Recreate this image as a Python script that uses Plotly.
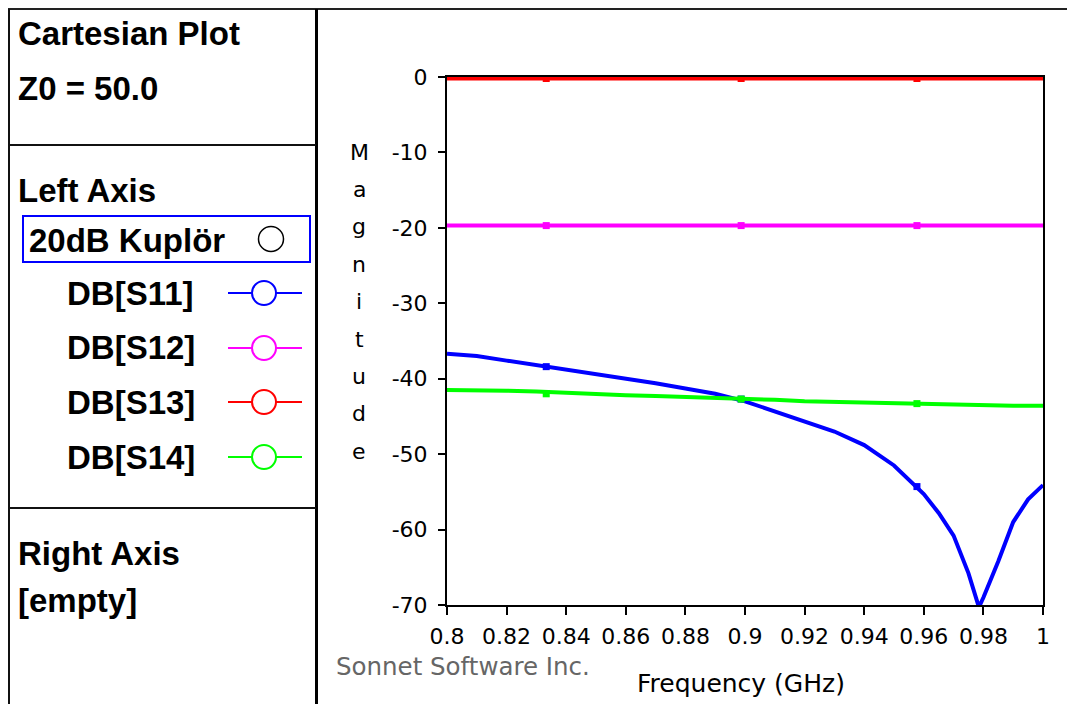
import plotly.graph_objects as go

# ---------------- data ----------------
freq = [0.800, 0.810, 0.820, 0.830, 0.840, 0.850, 0.860, 0.870, 0.880, 0.890,
        0.900, 0.910, 0.920, 0.930, 0.940, 0.950, 0.960, 0.965, 0.970, 0.975,
        0.9785, 0.980, 0.985, 0.990, 0.995, 1.000]
s11 = [-36.7, -37.0, -37.6, -38.2, -38.7, -39.3, -40.0, -40.6, -41.3, -42.0,
       -43.0, -44.3, -45.6, -47.0, -48.8, -51.5, -55.3, -57.8, -60.8, -65.8,
       -70.3, -69.0, -64.2, -59.0, -56.0, -54.1]
s12 = [-19.7, -19.7, -19.7, -19.7, -19.7, -19.7, -19.7, -19.7, -19.7, -19.7,
       -19.7, -19.7, -19.7, -19.7, -19.7, -19.7, -19.7, -19.7, -19.7, -19.7,
       -19.7, -19.7, -19.7, -19.7, -19.7, -19.7]
s13 = [-0.2, -0.2, -0.2, -0.2, -0.2, -0.2, -0.2, -0.2, -0.2, -0.2,
       -0.2, -0.2, -0.2, -0.2, -0.2, -0.2, -0.2, -0.2, -0.2, -0.2,
       -0.2, -0.2, -0.2, -0.2, -0.2, -0.2]
s14 = [-41.5, -41.5, -41.6, -41.7, -41.9, -42.0, -42.2, -42.3, -42.4, -42.6,
       -42.7, -42.8, -43.0, -43.1, -43.2, -43.3, -43.3, -43.4, -43.4, -43.5,
       -43.5, -43.6, -43.6, -43.6, -43.6, -43.6]

mark_freq = [0.8333, 0.8987, 0.9577]
s11_mark = [-38.4, -42.7, -54.3]
s12_mark = [-19.7, -19.7, -19.7]
s13_mark = [-0.2, -0.2, -0.2]
s14_mark = [-42.0, -42.7, -43.3]

series_names = ["DB[S11]", "DB[S12]", "DB[S13]", "DB[S14]"]
series_colors = ["#0000FF", "#FF00FF", "#FF0000", "#00FF00"]

x_ticks = [0.80, 0.82, 0.84, 0.86, 0.88, 0.90, 0.92, 0.94, 0.96, 0.98, 1.00]
x_tick_text = ["0.8", "0.82", "0.84", "0.86", "0.88", "0.9", "0.92", "0.94", "0.96", "0.98", "1"]
y_ticks = [0, -10, -20, -30, -40, -50, -60, -70]
y_tick_text = ["0", "-10", "-20", "-30", "-40", "-50", "-60", "-70"]

# ---------------- geometry (page pixels; the page body has an 8px margin) ----------------
OFF = 8
WIN_W, WIN_H = 1075, 704
W, H = WIN_W - OFF, WIN_H - OFF
L, R, T, B = 447, 1043, 77, 605


def px(x):
    return (x - L) / (R - L)


def py(y):
    return (B - y) / (B - T)


BOLD_FONT = "Liberation Sans, Arial, sans-serif"
REG_FONT = "DejaVu Sans, Liberation Sans, sans-serif"

fig = go.Figure()
curves = [s11, s12, s13, s14]
marks = [s11_mark, s12_mark, s13_mark, s14_mark]
for name, col, vals, mv in zip(series_names, series_colors, curves, marks):
    fig.add_trace(go.Scatter(x=freq, y=vals, mode="lines", name=name,
                             line=dict(color=col, width=4), showlegend=False))
    fig.add_trace(go.Scatter(x=mark_freq, y=mv, mode="markers", name=name,
                             marker=dict(color=col, symbol="square", size=7),
                             showlegend=False))

shapes = []
ann = []


def hline(y, x0, x1, w=2, col="#111"):
    shapes.append(dict(type="line", xref="paper", yref="paper",
                       x0=px(x0), x1=px(x1), y0=py(y), y1=py(y),
                       line=dict(color=col, width=w)))


def vline(x, y0, y1, w=2, col="#111"):
    shapes.append(dict(type="line", xref="paper", yref="paper",
                       x0=px(x), x1=px(x), y0=py(y0), y1=py(y1),
                       line=dict(color=col, width=w)))


def text(x, y, s, size=33, bold=True, col="black", anchor="left"):
    ann.append(dict(xref="paper", yref="paper", x=px(x), y=py(y), text=s,
                    showarrow=False, xanchor=anchor, yanchor="middle",
                    font=dict(family=BOLD_FONT if bold else REG_FONT, size=size,
                              color=col, weight="bold" if bold else "normal")))


def circle(cx, cy, r, col, w=2):
    shapes.append(dict(type="circle", xref="paper", yref="paper",
                       x0=px(cx - r), x1=px(cx + r), y0=py(cy + r), y1=py(cy - r),
                       line=dict(color=col, width=w), fillcolor="white"))


# panel borders
hline(9, OFF, WIN_W, 2, "#222")
vline(9, 9, WIN_H, 2)
vline(316.5, 9, WIN_H, 3, "#000")
hline(145, 8, 316)
hline(508, 8, 316)

# panel texts
text(16, 34, "Cartesian Plot")
text(16, 88, "Z0 = 50.0")
text(16, 190, "Left Axis")
shapes.append(dict(type="rect", xref="paper", yref="paper",
                   x0=px(23), x1=px(310), y0=py(262), y1=py(216),
                   line=dict(color="#0000FF", width=2)))
text(27, 240, "20dB Kuplör")
circle(271, 239, 12.5, "#000", 1.5)

leg_y = [293, 348, 402, 457]
for name, col, yy in zip(series_names, series_colors, leg_y):
    text(65, yy, name)
    hline(yy, 228, 302, 2, col)
    circle(264, yy, 12, col, 2)

text(16, 553, "Right Axis")
text(16, 600, "[empty]")

# axis title letters (vertical "Magnitude")
for i, ch in enumerate("Magnitude"):
    text(359, 152 + 37.4 * i, ch, size=22, bold=False, anchor="center")

text(741, 683, "Frequency (GHz)", size=25, bold=False, anchor="center")
text(334, 666, "Sonnet Software Inc.", size=24.5, bold=False, col="#666666")

fig.update_layout(
    width=W, height=H,
    margin=dict(l=L - OFF, r=WIN_W - R, t=T - OFF, b=WIN_H - B),
    paper_bgcolor="white", plot_bgcolor="white",
    shapes=shapes, annotations=ann, showlegend=False,
    xaxis=dict(range=[0.8, 1.0], tickvals=x_ticks, ticktext=x_tick_text,
               showgrid=False, zeroline=False, showline=True, linecolor="black",
               linewidth=2, mirror=True, ticks="outside", ticklen=8, tickwidth=2,
               tickcolor="black", ticklabelstandoff=3,
               tickfont=dict(family=REG_FONT, size=22, color="black")),
    yaxis=dict(range=[-70, 0], tickvals=y_ticks, ticktext=y_tick_text,
               showgrid=False, zeroline=False, showline=True, linecolor="black",
               linewidth=2, mirror=True, ticks="outside", ticklen=7, tickwidth=2,
               tickcolor="black", ticklabelstandoff=6,
               tickfont=dict(family=REG_FONT, size=22, color="black")),
)

fig.write_html("out.html")
